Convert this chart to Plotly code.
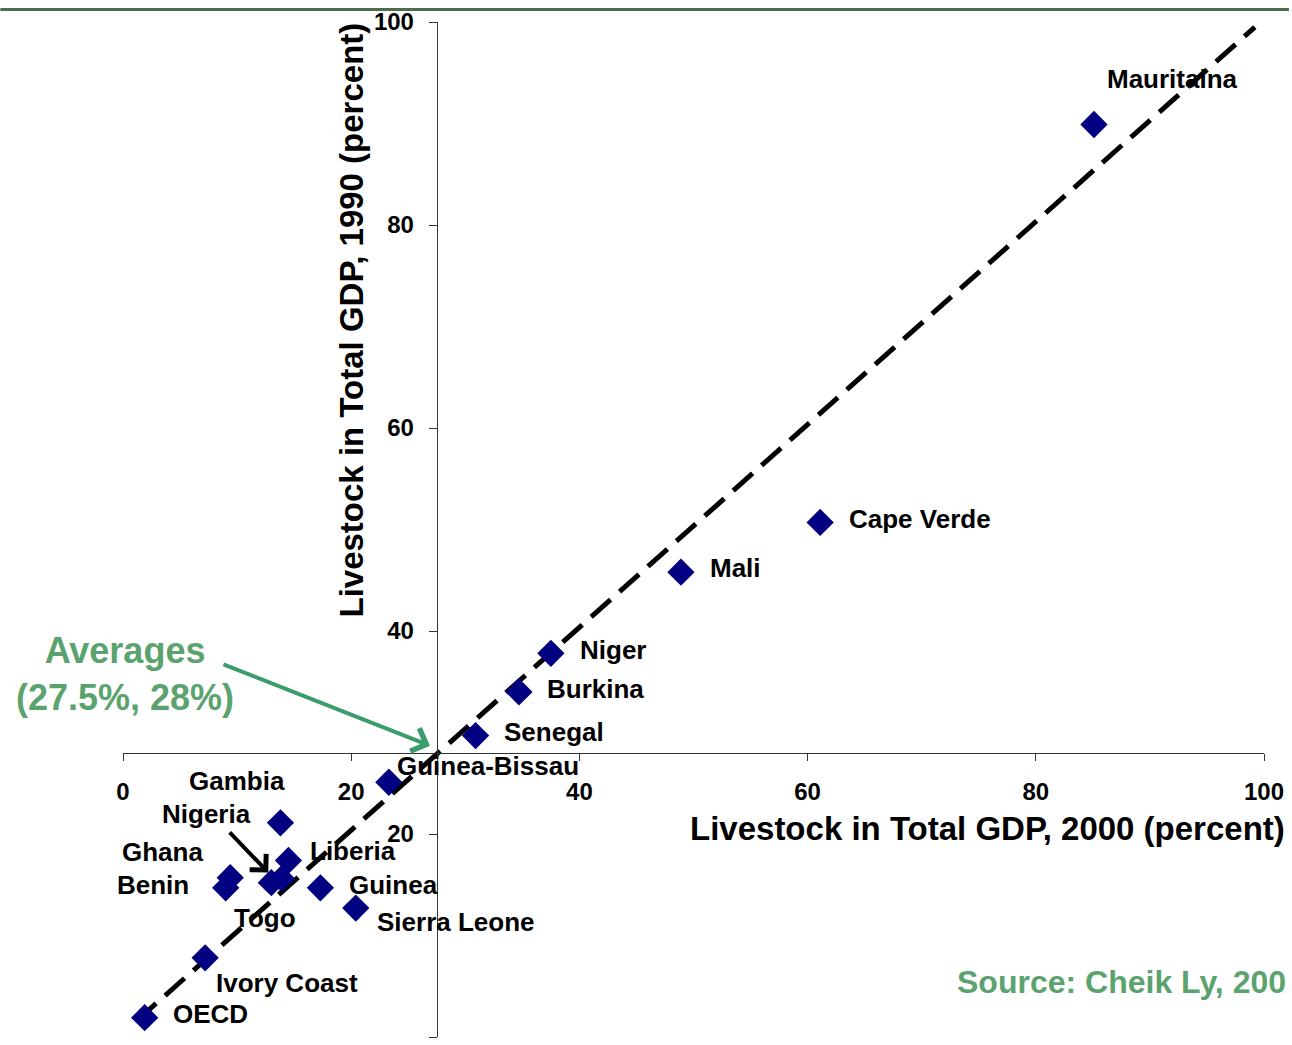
import plotly.graph_objects as go

# ---------------- data ----------------
countries = ["Mauritaina", "Cape Verde", "Mali", "Niger", "Burkina", "Senegal",
             "Guinea-Bissau", "Gambia", "Liberia", "Nigeria", "Togo", "Ghana",
             "Benin", "Guinea", "Sierra Leone", "Ivory Coast", "OECD"]
gdp_share_2000 = [85.1, 61.1, 48.9, 37.5, 34.7, 30.9, 23.3, 13.8, 14.5, 13.0,
                  13.9, 9.4, 9.0, 17.3, 20.4, 7.2, 1.9]
gdp_share_1990 = [89.9, 50.7, 45.8, 37.8, 34.0, 29.7, 25.1, 21.1, 17.4, 15.2,
                  15.6, 15.7, 14.7, 14.7, 12.7, 7.8, 1.9]
trend_x = [1.2, 99.2]
trend_y = [1.6, 99.5]
avg_x = 27.5
avg_y = 28.0
tick_vals = [0, 20, 40, 60, 80, 100]

# label placement (pixel offsets from the point): anchor, dx, dy(up)
label_pos = {
    "Mauritaina": ("left", 11, 46),
    "Cape Verde": ("left", 27, 3.5),
    "Mali": ("left", 27, 4),
    "Niger": ("left", 27, 3),
    "Burkina": ("left", 26, 3),
    "Senegal": ("left", 26, 4),
    "Guinea-Bissau": ("left", 6, 16),
    "Gambia": ("center", -43.6, 41.5),
    "Liberia": ("left", 20, 9),
    "Nigeria": ("right", -18.3, 69),
    "Togo": ("center", -16.2, -39.7),
    "Ghana": ("right", -25.7, 25.7),
    "Benin": ("right", -35, 3.2),
    "Guinea": ("left", 26.3, 3.2),
    "Sierra Leone": ("left", 19, -14.3),
    "Ivory Coast": ("left", 8.7, -24.7),
    "OECD": ("left", 26.7, 3.3),
}

FONT = "Liberation Sans, Arial, sans-serif"
GREEN = "#5ba36e"
ARROW_GREEN = "#3b9c6c"

W, H = 1292, 1045
ML, MR, MT, MB = 123, 25, 19, 8
PW = W - ML - MR
PH = H - MT - MB


def px_to_paper_x(px):
    return (px - ML) / PW


def px_to_paper_y(py):
    return (H - MB - py) / PH


fig = go.Figure()

fig.add_trace(go.Scatter(
    x=trend_x, y=trend_y, mode="lines",
    line=dict(color="black", width=5, dash="26px,12px"),
    hoverinfo="skip", showlegend=False,
))

fig.add_trace(go.Scatter(
    x=gdp_share_2000, y=gdp_share_1990, mode="markers",
    marker=dict(symbol="diamond", size=21, color="#000080",
                line=dict(width=0)),
    text=countries, hoverinfo="text", showlegend=False, cliponaxis=False,
))

annotations = []
for name, xv, yv in zip(countries, gdp_share_2000, gdp_share_1990):
    anchor, dx, dy = label_pos[name]
    annotations.append(dict(
        x=xv, y=yv, xref="x", yref="y", text=name, showarrow=False,
        xanchor=anchor, yanchor="middle", xshift=dx, yshift=dy,
        font=dict(family=FONT, size=26, color="black", weight="bold"),
    ))

# Nigeria pointer arrow
annotations.append(dict(
    x=12.73, y=16.2, xref="x", yref="y", text="", showarrow=True,
    ax=-40, ay=-41.7, arrowhead=4, arrowsize=1.1, arrowwidth=4,
    arrowcolor="black", standoff=0,
))

# Averages arrow + text
annotations.append(dict(
    x=26.9, y=28.7, xref="x", yref="y", text="", showarrow=True,
    ax=-208, ay=-82, arrowhead=4, arrowsize=1.2, arrowwidth=4,
    arrowcolor=ARROW_GREEN, standoff=0,
))
annotations.append(dict(
    x=px_to_paper_x(125), y=px_to_paper_y(673), xref="paper", yref="paper",
    text="Averages<br>(27.5%, 28%)", showarrow=False,
    xanchor="center", yanchor="middle", align="center",
    font=dict(family=FONT, size=36, color=GREEN, weight="bold"),
))

# axis titles
annotations.append(dict(
    x=px_to_paper_x(1290), y=px_to_paper_y(828), xref="paper", yref="paper",
    text="Livestock in Total GDP, 2000 (percent)", showarrow=False,
    xanchor="right", yanchor="middle",
    font=dict(family=FONT, size=33, color="black", weight="bold"),
))
annotations.append(dict(
    x=px_to_paper_x(352), y=px_to_paper_y(318), xref="paper", yref="paper",
    text="Livestock in Total GDP, 1990 (percent)", showarrow=False,
    textangle=-90, xanchor="center", yanchor="middle",
    font=dict(family=FONT, size=33, color="black", weight="bold"),
))

# source
annotations.append(dict(
    x=px_to_paper_x(957), y=px_to_paper_y(982), xref="paper", yref="paper",
    text="Source: Cheik Ly, 200", showarrow=False,
    xanchor="left", yanchor="middle",
    font=dict(family=FONT, size=32, color=GREEN, weight="bold"),
))

shapes = [dict(
    type="line", xref="paper", yref="paper",
    x0=px_to_paper_x(0), x1=px_to_paper_x(W),
    y0=px_to_paper_y(6.5), y1=px_to_paper_y(6.5),
    line=dict(color="#46704e", width=3),
)]

axis_common = dict(
    range=[0, 100], tickvals=tick_vals, ticktext=[str(v) for v in tick_vals],
    showgrid=False, zeroline=False, showline=True, linecolor="#333333",
    linewidth=1, ticks="outside", tickcolor="#333333", tickwidth=1,
    tickfont=dict(family=FONT, size=24, color="black", weight="bold"),
    anchor="free",
)

fig.update_layout(
    width=W, height=H,
    margin=dict(l=ML, r=MR, t=MT, b=MB, pad=0),
    paper_bgcolor="white", plot_bgcolor="white",
    font=dict(family=FONT, color="black"),
    xaxis=dict(**axis_common, position=avg_y / 100.0, side="bottom",
               ticklen=7, ticklabelstandoff=10),
    yaxis=dict(**axis_common, position=avg_x / 100.0, side="left",
               ticklen=8, ticklabelstandoff=10),
    annotations=annotations,
    shapes=shapes,
    showlegend=False,
)

fig.write_html("out.html", include_plotlyjs=True,
               config={"displayModeBar": False},
               post_script="document.body.style.margin='0';document.body.style.overflow='hidden';")
